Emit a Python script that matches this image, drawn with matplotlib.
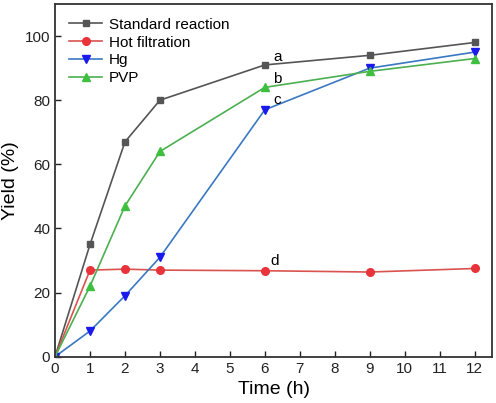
import matplotlib
matplotlib.use("Agg")
import matplotlib.pyplot as plt

plt.rcParams["font.family"] = ["Liberation Sans", "DejaVu Sans"]

time_h = [0, 1, 2, 3, 6, 9, 12]
standard = [0, 35, 67, 80, 91, 94, 98]
hot_filtration = [0, 27, 27.3, 27, 26.8, 26.4, 27.5]
hg = [0, 8, 19, 31, 77, 90, 95]
pvp = [0, 22, 47, 64, 84, 89, 93]

labels = ["a", "b", "c", "d"]
label_x = [6.25, 6.25, 6.25, 6.15]
label_y = [91.3, 84.5, 78, 27.8]

fig = plt.figure(figsize=(4.96, 4.03), dpi=100)
ax = fig.add_axes([0.111, 0.115, 0.881, 0.875])

ax.plot(time_h, standard, color="#555555", marker="s", ms=5, lw=1.2,
        mfc="#555555", mec="#555555", label="Standard reaction")
ax.plot(time_h, hot_filtration, color="#d9534f", marker="o", ms=5.5, lw=1.2,
        mfc="#e8333a", mec="#e8333a", label="Hot filtration")
ax.plot(time_h, hg, color="#3a78c2", marker="v", ms=6, lw=1.2,
        mfc="#1a1aee", mec="#1a1aee", label="Hg")
ax.plot(time_h, pvp, color="#4caf50", marker="^", ms=6, lw=1.2,
        mfc="#3fbf3f", mec="#3fbf3f", label="PVP")

for t, x, y in zip(labels, label_x, label_y):
    ax.text(x, y, t, fontsize=11, ha="left", va="bottom")

ax.set_xlim(0, 12.5)
ax.set_ylim(0, 110)
ax.set_xticks(range(0, 13))
ax.set_yticks(range(0, 101, 20))
ax.tick_params(direction="in", length=4, width=1, labelsize=11, colors="#222222")
for s in ax.spines.values():
    s.set_linewidth(1.3)
    s.set_color("#333333")

ax.set_xlabel("Time (h)", fontsize=14)
ax.set_ylabel("Yield (%)", fontsize=14)

ax.legend(loc="upper left", frameon=False, fontsize=11, handlelength=2.2,
          labelspacing=0.25, borderaxespad=0.5, handletextpad=0.4)

fig.savefig("out.png", dpi=100)
